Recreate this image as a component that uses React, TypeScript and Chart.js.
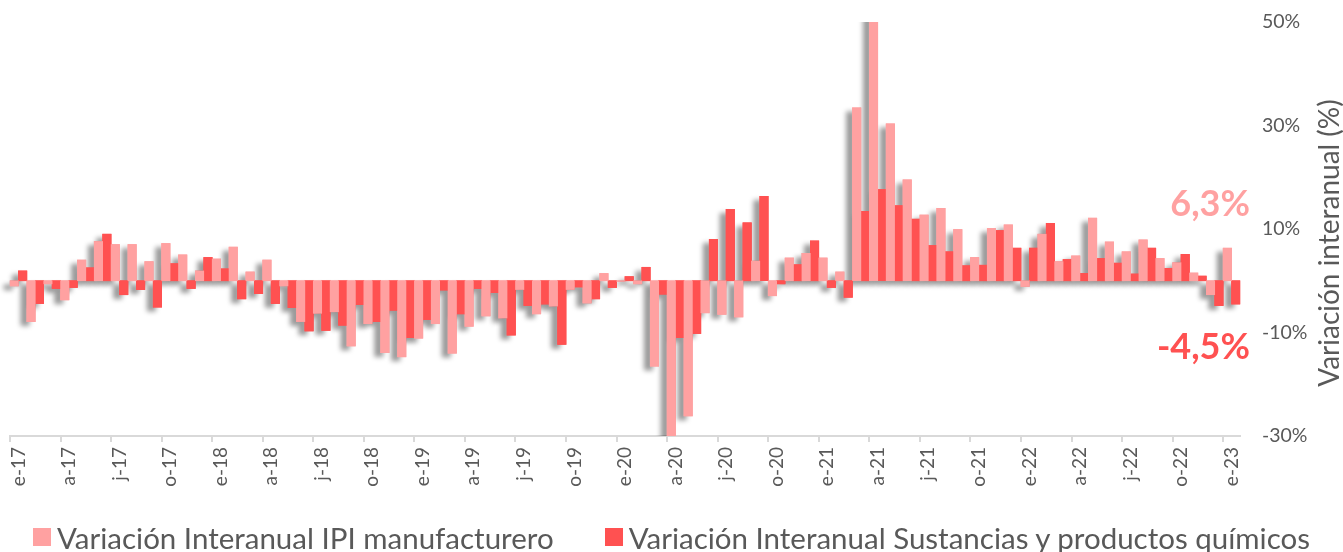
import React, { useEffect, useRef } from 'react';
import { Chart, registerables } from 'chart.js';
Chart.register(...registerables);

const categories = [
  'e-17','f-17','m-17','a-17','m-17','j-17','j-17','a-17','s-17','o-17','n-17','d-17',
  'e-18','f-18','m-18','a-18','m-18','j-18','j-18','a-18','s-18','o-18','n-18','d-18',
  'e-19','f-19','m-19','a-19','m-19','j-19','j-19','a-19','s-19','o-19','n-19','d-19',
  'e-20','f-20','m-20','a-20','m-20','j-20','j-20','a-20','s-20','o-20','n-20','d-20',
  'e-21','f-21','m-21','a-21','m-21','j-21','j-21','a-21','s-21','o-21','n-21','d-21',
  'e-22','f-22','m-22','a-22','m-22','j-22','j-22','a-22','s-22','o-22','n-22','d-22',
  'e-23'
];

const ipiManufacturero = [
  -1.0, -7.9, -0.6, -3.7, 4.0, 7.6, 7.0, 7.0, 3.7, 7.2, 5.0, 1.9,
  4.2, 6.5, 1.7, 4.0, -1.0, -7.9, -6.3, -6.0, -12.6, -8.3, -13.9, -14.7,
  -11.1, -8.3, -14.0, -8.8, -6.8, -7.2, -1.7, -6.4, -4.9, -1.7, -4.3, 1.4,
  -0.1, -0.6, -16.5, -30.5, -26.1, -6.2, -6.5, -7.0, 3.8, -2.9, 4.4, 5.3,
  4.4, 1.7, 33.4, 55.0, 30.3, 19.5, 12.7, 14.0, 9.9, 4.5, 10.1, 10.8,
  -1.1, 9.0, 3.7, 4.8, 12.1, 7.5, 5.6, 7.9, 4.3, 3.5, 1.5, -2.7,
  6.3
];

const sustanciasQuimicos = [
  1.9, -4.4, -1.5, -1.3, 2.5, 9.0, -2.7, -1.7, -5.1, 3.3, -1.5, 4.5,
  2.3, -3.5, -2.5, -4.4, -5.2, -9.7, -9.6, -8.6, -4.6, -7.9, -5.7, -11.0,
  -7.5, -1.8, -6.4, -1.5, -2.3, -10.5, -4.8, -4.5, -12.3, -1.2, -3.5, -1.3,
  0.8, 2.6, -2.6, -11.0, -10.2, 8.0, 13.8, 11.2, 16.3, -0.6, 3.1, 7.7,
  -1.3, -3.2, 13.4, 17.6, 14.5, 11.9, 6.8, 5.6, 2.9, 3.0, 9.7, 6.3,
  6.3, 11.1, 4.1, 1.4, 4.3, 3.4, 1.3, 6.3, 2.4, 5.1, 0.9, -4.8,
  -4.5
];

const seriesNames = ['Variación Interanual IPI manufacturero', 'Variación Interanual Sustancias y productos químicos'];
const seriesColors = ['#FFA1A1', '#FF5151'];
const yTickValues = [-30, -10, 10, 30, 50];
const yTitle = 'Variación interanual (%)';
const annotationTexts = ['6,3%', '-4,5%'];
const annotationValues = [14.8, -12.8];

const FONT = 'Lato, "Open Sans", sans-serif';
const GRAY = '#595959';

export default function App() {
  const ref = useRef<HTMLCanvasElement | null>(null);

  useEffect(() => {
    const canvas = ref.current;
    if (!canvas) return;

    const shadowPlugin = {
      id: 'barShadow',
      beforeDatasetsDraw(chart: any) {
        const ctx = chart.ctx;
        const a = chart.chartArea;
        ctx.save();
        ctx.beginPath();
        ctx.rect(a.left - 10, a.top, a.right - a.left + 20, a.bottom - a.top);
        ctx.clip();
        ctx.shadowColor = 'rgba(0,0,0,0.4)';
        ctx.shadowBlur = 5;
        ctx.shadowOffsetX = -6;
        ctx.shadowOffsetY = 4;
        chart.data.datasets.forEach((_: any, i: number) => {
          const meta = chart.getDatasetMeta(i);
          meta.data.forEach((el: any) => el.draw(ctx));
        });
        ctx.restore();
      },
    };

    const textPlugin = {
      id: 'texts',
      afterDraw(chart: any) {
        const ctx = chart.ctx;
        const a = chart.chartArea;
        const ys = chart.scales.y;
        ctx.save();
        ctx.font = `bold 36px ${FONT}`;
        ctx.textAlign = 'right';
        ctx.textBaseline = 'middle';
        annotationTexts.forEach((t, i) => {
          ctx.fillStyle = seriesColors[i];
          ctx.fillText(t, a.right + 10, ys.getPixelForValue(annotationValues[i]));
        });
        ctx.restore();

        ctx.save();
        ctx.font = `28px ${FONT}`;
        ctx.fillStyle = GRAY;
        ctx.textAlign = 'center';
        ctx.textBaseline = 'middle';
        ctx.translate(1330, (a.top + a.bottom) / 2 + 14);
        ctx.rotate(-Math.PI / 2);
        ctx.fillText(yTitle, 0, 0);
        ctx.restore();
      },
    };

    const chart = new Chart(canvas, {
      type: 'bar',
      data: {
        labels: categories,
        datasets: [
          {
            label: seriesNames[0],
            data: ipiManufacturero,
            backgroundColor: seriesColors[0],
            barPercentage: 1,
            categoryPercentage: 1,
          },
          {
            label: seriesNames[1],
            data: sustanciasQuimicos,
            backgroundColor: seriesColors[1],
            barPercentage: 1,
            categoryPercentage: 1,
          },
        ],
      },
      options: {
        responsive: false,
        animation: false,
        devicePixelRatio: 1,
        layout: { padding: { left: 10, top: 22, right: 0, bottom: 46 } },
        plugins: {
          legend: { display: false },
          tooltip: { enabled: false },
        },
        scales: {
          x: {
            offset: true,
            afterFit: (s: any) => { s.height = 70; },
            grid: {
              offset: true,
              drawOnChartArea: false,
              drawTicks: true,
              tickLength: 6,
              lineWidth: 2,
              color: (c: any) => (c.index % 3 === 0 ? '#D9D9D9' : 'rgba(0,0,0,0)'),
            },
            border: { display: true, color: '#D9D9D9', width: 2 },
            ticks: {
              autoSkip: false,
              maxRotation: 90,
              minRotation: 90,
              padding: 5,
              color: GRAY,
              font: { family: FONT, size: 19 },
              callback: (_v: any, i: number) => (i % 3 === 0 ? categories[i] : ''),
            },
          },
          y: {
            position: 'right',
            min: -30,
            max: 50,
            afterFit: (s: any) => { s.width = 103; s.paddingTop = 10; s.paddingBottom = 10; },
            afterBuildTicks: (s: any) => { s.ticks = yTickValues.map((v) => ({ value: v })); },
            grid: { display: false, drawTicks: false },
            border: { display: false },
            ticks: {
              padding: 22,
              color: GRAY,
              font: { family: FONT, size: 19.5 },
              callback: (v: any) => `${v}%`,
            },
          },
        },
      },
      plugins: [shadowPlugin, textPlugin],
    } as any);

    return () => chart.destroy();
  }, []);

  return (
    <div style={{ position: 'fixed', left: 0, top: 0, width: 1343, height: 552, background: '#fff', overflow: 'hidden' }}>
      <canvas ref={ref} width={1343} height={552} style={{ display: 'block' }} />
      <div
        style={{
          position: 'absolute',
          left: 0,
          top: 521,
          width: 1343,
          height: 32,
          display: 'flex',
          justifyContent: 'center',
          alignItems: 'center',
          fontFamily: FONT,
          fontSize: 29.5,
          color: GRAY,
          whiteSpace: 'nowrap',
        }}
      >
        {seriesNames.map((n, i) => (
          <div key={n} style={{ display: 'flex', alignItems: 'center', marginLeft: i === 0 ? 0 : 51 }}>
            <span style={{ display: 'inline-block', width: 18, height: 18, background: seriesColors[i], marginRight: 6 }} />
            <span>{n}</span>
          </div>
        ))}
      </div>
    </div>
  );
}
